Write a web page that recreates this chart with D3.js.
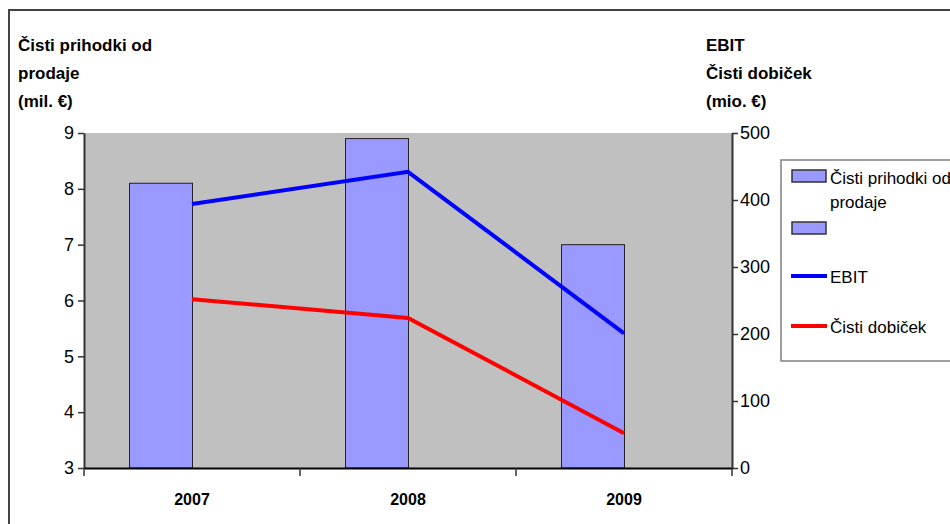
<!DOCTYPE html>
<html>
<head>
<meta charset="utf-8">
<script src="https://cdn.jsdelivr.net/npm/d3@7/dist/d3.min.js"></script>
<style>
  html, body { margin: 0; padding: 0; background: #fff; }
  svg { display: block; font-family: "Liberation Sans", Arial, sans-serif; }
</style>
</head>
<body>
<svg id="chart" width="950" height="524"></svg>
<script>
// Categories and series
const years = ["2007", "2008", "2009"];
const sales = [8.1, 8.9, 7.0];            // Čisti prihodki od prodaje (mil. €)
const salesSecond = [null, null, null];   // second column series, no values
const ebit = [394, 442, 201];             // EBIT (mio. €)
const netProfit = [252, 224, 52];         // Čisti dobiček (mio. €)

const leftTicks = [3, 4, 5, 6, 7, 8, 9];
const rightTicks = [0, 100, 200, 300, 400, 500];

const svg = d3.select("#chart");

const plot = { left: 84, right: 732, top: 133, bottom: 468 };

// Outer frame
svg.append("path")
  .attr("d", `M9,524 V10 H950`)
  .attr("fill", "none")
  .attr("stroke", "#444")
  .attr("stroke-width", 2);

// Scales
const x = d3.scaleBand().domain(years).range([plot.left, plot.right]).padding(0);
const yL = d3.scaleLinear().domain([3, 9]).range([plot.bottom, plot.top]);
const yR = d3.scaleLinear().domain([0, 500]).range([plot.bottom, plot.top]);
const barW = 63;
const sub = d3.scaleBand().domain(["a", "b"]).range([-barW, barW]).padding(0);

// Plot area background
svg.append("rect")
  .attr("x", plot.left).attr("y", plot.top)
  .attr("width", plot.right - plot.left).attr("height", plot.bottom - plot.top)
  .attr("fill", "#c0c0c0");

// Columns
const cx = d => x(d) + x.bandwidth() / 2;
svg.append("g").selectAll("rect.s1")
  .data(years.map((y, i) => ({ y, v: sales[i] })))
  .join("rect")
  .attr("x", d => cx(d.y) + sub("a") + 0.5)
  .attr("y", d => yL(d.v))
  .attr("width", sub.bandwidth())
  .attr("height", d => yL(3) - yL(d.v))
  .attr("fill", "#9999ff")
  .attr("stroke", "#222")
  .attr("stroke-width", 1);

svg.append("g").selectAll("rect.s2")
  .data(years.map((y, i) => ({ y, v: salesSecond[i] })).filter(d => d.v != null))
  .join("rect")
  .attr("x", d => cx(d.y) + sub("b"))
  .attr("y", d => yL(d.v))
  .attr("width", sub.bandwidth())
  .attr("height", d => yL(3) - yL(d.v))
  .attr("fill", "#9999ff")
  .attr("stroke", "#222");

// Lines
const line = d3.line().x((d, i) => cx(years[i])).y(d => yR(d));
svg.append("path").datum(ebit)
  .attr("d", line).attr("fill", "none")
  .attr("stroke", "#0000ff").attr("stroke-width", 4);
svg.append("path").datum(netProfit)
  .attr("d", line).attr("fill", "none")
  .attr("stroke", "#ff0000").attr("stroke-width", 4);

// Axes
const axL = svg.append("g").attr("transform", `translate(${plot.left},0)`)
  .call(d3.axisLeft(yL).tickValues(leftTicks).tickSize(6).tickSizeOuter(0).tickFormat(d3.format("d")));
const axR = svg.append("g").attr("transform", `translate(${plot.right},0)`)
  .call(d3.axisRight(yR).tickValues(rightTicks).tickSize(6).tickSizeOuter(0).tickFormat(d3.format("d")));
const axB = svg.append("g").attr("transform", `translate(0,${plot.bottom})`)
  .call(d3.axisBottom(x).tickSize(0).tickSizeOuter(0));

[axL, axR].forEach(g => {
  g.select(".domain").attr("stroke", "#333").attr("stroke-width", 2);
  g.selectAll(".tick line").attr("stroke", "#333").attr("stroke-width", 1.5);
  g.selectAll(".tick text")
    .attr("font-family", "Liberation Sans, Arial, sans-serif")
    .attr("font-size", 18).attr("fill", "#000");
});
axL.selectAll(".tick text").attr("x", -10);
axR.selectAll(".tick text").attr("x", 8);

axB.select(".domain").attr("stroke", "#000").attr("stroke-width", 2);
axB.selectAll(".tick text")
  .attr("y", 26)
  .attr("font-family", "Liberation Sans, Arial, sans-serif")
  .attr("font-size", 16).attr("font-weight", "bold").attr("fill", "#000");
// Category boundary ticks
const bounds = [...years.map(d => x(d)), plot.right];
axB.selectAll("line.bound").data(bounds).join("line")
  .attr("x1", d => d).attr("x2", d => d)
  .attr("y1", 0).attr("y2", 8)
  .attr("stroke", "#333").attr("stroke-width", 1.5);

// Axis titles
const titleL = ["Čisti prihodki od", "prodaje", "(mil. €)"];
const titleR = ["EBIT", "Čisti dobiček", "(mio. €)"];
const baselines = [51, 79, 107];
svg.append("g").selectAll("text").data(titleL).join("text")
  .attr("x", 18).attr("y", (d, i) => baselines[i])
  .attr("font-size", 17).attr("font-weight", "bold").text(d => d);
svg.append("g").selectAll("text").data(titleR).join("text")
  .attr("x", 706).attr("y", (d, i) => baselines[i])
  .attr("font-size", 17).attr("font-weight", "bold").text(d => d);

// Legend
const lg = svg.append("g");
lg.append("rect")
  .attr("x", 781).attr("y", 160).attr("width", 200).attr("height", 201)
  .attr("fill", "#fff").attr("stroke", "#808080").attr("stroke-width", 1.5);

const legendFont = 17;
lg.append("rect").attr("x", 792).attr("y", 170).attr("width", 34).attr("height", 12)
  .attr("fill", "#9999ff").attr("stroke", "#333").attr("stroke-width", 1.5);
lg.append("text").attr("x", 830).attr("y", 184).attr("font-size", legendFont).text("Čisti prihodki od");
lg.append("text").attr("x", 830).attr("y", 208).attr("font-size", legendFont).text("prodaje");

lg.append("rect").attr("x", 792).attr("y", 222).attr("width", 34).attr("height", 12)
  .attr("fill", "#9999ff").attr("stroke", "#333").attr("stroke-width", 1.5);

lg.append("line").attr("x1", 791).attr("x2", 827).attr("y1", 276).attr("y2", 276)
  .attr("stroke", "#0000ff").attr("stroke-width", 4);
lg.append("text").attr("x", 830).attr("y", 283).attr("font-size", legendFont).text("EBIT");

lg.append("line").attr("x1", 791).attr("x2", 827).attr("y1", 326).attr("y2", 326)
  .attr("stroke", "#ff0000").attr("stroke-width", 4);
lg.append("text").attr("x", 830).attr("y", 333).attr("font-size", legendFont).text("Čisti dobiček");
</script>
</body>
</html>
